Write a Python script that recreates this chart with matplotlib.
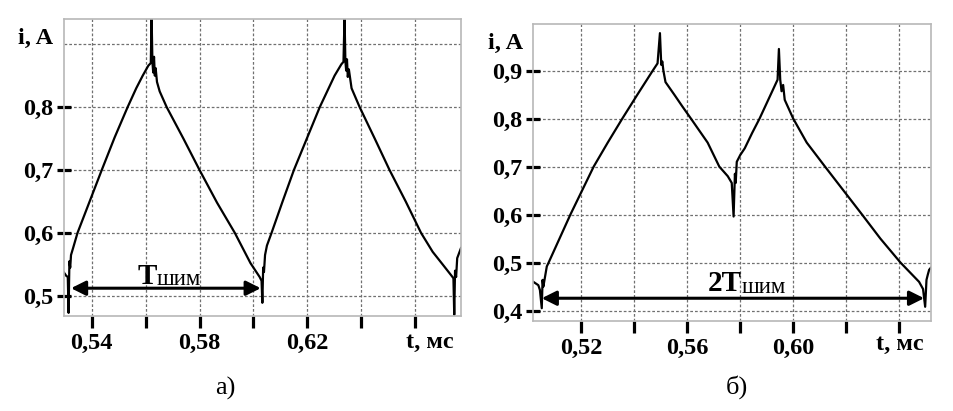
import matplotlib.pyplot as plt

plt.rcParams['font.family'] = ['Liberation Serif', 'DejaVu Serif']

# panel a) - current over one PWM period
t_a = [0.5297, 0.5305, 0.5311, 0.5314, 0.5317, 0.5320, 0.5323, 0.5330, 0.5347,
       0.5392, 0.5437, 0.5485, 0.5533, 0.5565, 0.5589, 0.5610, 0.5619, 0.5622,
       0.5625, 0.5628, 0.5631, 0.5634, 0.5637, 0.5642, 0.5652, 0.5678, 0.5740,
       0.5800, 0.5865, 0.5931, 0.5989, 0.6023, 0.6030, 0.6033, 0.6036, 0.6039,
       0.6043, 0.6050, 0.6067, 0.6108, 0.6150, 0.6198, 0.6246, 0.6301, 0.6326,
       0.6334, 0.6338, 0.6341, 0.6344, 0.6347, 0.6350, 0.6354, 0.6364, 0.6394,
       0.6450, 0.6505, 0.6565, 0.6622, 0.6665, 0.6702, 0.6735, 0.6742, 0.6745,
       0.6748, 0.6752, 0.6756, 0.6770]
i_a = [0.537, 0.532, 0.530, 0.473, 0.555, 0.545, 0.565, 0.575, 0.600,
       0.650, 0.700, 0.752, 0.800, 0.830, 0.850, 0.866, 0.870, 0.945,
       0.872, 0.855, 0.880, 0.850, 0.862, 0.840, 0.825, 0.800, 0.750,
       0.700, 0.648, 0.600, 0.552, 0.530, 0.524, 0.489, 0.545, 0.538,
       0.565, 0.580, 0.600, 0.650, 0.700, 0.750, 0.800, 0.850, 0.868,
       0.872, 0.945, 0.874, 0.858, 0.876, 0.848, 0.860, 0.830, 0.800,
       0.750, 0.700, 0.650, 0.600, 0.570, 0.550, 0.532, 0.528, 0.470,
       0.540, 0.530, 0.560, 0.576]

# panel б) - current over two PWM periods
t_b = [0.5019, 0.5038, 0.5044, 0.5051, 0.5054, 0.5057, 0.5070, 0.5076, 0.5159,
       0.5247, 0.5300, 0.5355, 0.5412, 0.5470, 0.5488, 0.5497, 0.5502, 0.5506,
       0.5510, 0.5518, 0.5551, 0.5582, 0.5614, 0.5677, 0.5721, 0.5753, 0.5768,
       0.5775, 0.5780, 0.5783, 0.5787, 0.5800, 0.5817, 0.5845, 0.5873, 0.5915,
       0.5941, 0.5946, 0.5951, 0.5956, 0.5962, 0.5968, 0.6000, 0.6051, 0.6120,
       0.6190, 0.6260, 0.6329, 0.6405, 0.6475, 0.6490, 0.6498, 0.6503, 0.6508,
       0.6513, 0.6519]
i_b = [0.460, 0.453, 0.443, 0.405, 0.464, 0.450, 0.492, 0.499, 0.600,
       0.700, 0.750, 0.800, 0.850, 0.900, 0.915, 0.978, 0.912, 0.919,
       0.900, 0.876, 0.850, 0.825, 0.800, 0.750, 0.700, 0.680, 0.666,
       0.596, 0.685, 0.666, 0.710, 0.724, 0.738, 0.770, 0.800, 0.850,
       0.881, 0.945, 0.881, 0.857, 0.870, 0.839, 0.800, 0.750, 0.700,
       0.650, 0.600, 0.550, 0.500, 0.460, 0.445, 0.408, 0.464, 0.475,
       0.485, 0.489]

xticks_a = [0.54, 0.56, 0.58, 0.60, 0.62, 0.64, 0.66]
xlabels_a = ['0,54', '', '0,58', '', '0,62', '', '']
yticks_a = [0.5, 0.6, 0.7, 0.8, 0.9]
ylabels_a = ['0,5', '0,6', '0,7', '0,8', '']

xticks_b = [0.52, 0.54, 0.56, 0.58, 0.60, 0.62, 0.64]
xlabels_b = ['0,52', '', '0,56', '', '0,60', '', '']
yticks_b = [0.4, 0.5, 0.6, 0.7, 0.8, 0.9]
ylabels_b = ['0,4', '0,5', '0,6', '0,7', '0,8', '0,9']

fig = plt.figure(figsize=(9.54, 4.11), dpi=100)
ax_a = fig.add_axes([0.0671, 0.2311, 0.4161, 0.7226])
ax_b = fig.add_axes([0.5590, 0.2197, 0.4166, 0.7219])


def style(ax, xt, xl, yt, yl, xlim, ylim):
    ax.set_xlim(*xlim)
    ax.set_ylim(*ylim)
    ax.set_xticks(xt)
    ax.set_xticklabels(xl, fontsize=17.5, fontweight='bold')
    ax.set_yticks(yt)
    ax.set_yticklabels(yl, fontsize=17.5, fontweight='bold')
    ax.grid(True, color='#707070', linestyle=(0, (2.2, 1.6)), linewidth=0.9)
    for s in ax.spines.values():
        s.set_color('#b8b8b8')
        s.set_linewidth(1.2)
    ax.tick_params(axis='y', direction='inout', length=10, width=2.3, pad=3)
    ax.tick_params(axis='x', direction='out', length=8.5, width=2.3, pad=4)


style(ax_a, xticks_a, xlabels_a, yticks_a, ylabels_a, (0.5297, 0.677), (0.468, 0.94))
style(ax_b, xticks_b, xlabels_b, yticks_b, ylabels_b, (0.5019, 0.6519), (0.379, 0.997))
# no tick mark at 0,9 on panel a, only the grid line
ax_a.yaxis.get_major_ticks()[-1].tick1line.set_visible(False)

ax_a.plot(t_a, i_a, color='black', linewidth=1.6)
ax_b.plot(t_b, i_b, color='black', linewidth=1.6)

# period arrows
arrow = dict(arrowstyle='<|-|>', color='black', lw=2.2, mutation_scale=22,
             shrinkA=0, shrinkB=0)
ax_a.annotate('', xy=(0.5323, 0.5122), xytext=(0.6027, 0.5122), arrowprops=arrow)
ax_b.annotate('', xy=(0.5051, 0.4258), xytext=(0.6494, 0.4258), arrowprops=arrow)

ax_a.text(0.5642, 0.5195, 'T', fontsize=21, fontweight='bold', ha='right', va='baseline')
ax_a.text(0.5642, 0.5175, 'шим', fontsize=16.5, ha='left', va='baseline')
ax_b.text(0.5804, 0.440, '2T', fontsize=21, fontweight='bold', ha='right', va='baseline')
ax_b.text(0.5804, 0.4375, 'шим', fontsize=16.5, ha='left', va='baseline')

# axis captions
ax_a.text(-0.028, 0.909, 'i, A', transform=ax_a.get_yaxis_transform(),
          fontsize=17.5, fontweight='bold', ha='right', va='center')
ax_b.text(-0.025, 0.957, 'i, A', transform=ax_b.get_yaxis_transform(),
          fontsize=17.5, fontweight='bold', ha='right', va='center')
ax_a.text(0.6655, -0.055, 't, мс', transform=ax_a.get_xaxis_transform(),
          fontsize=17.5, fontweight='bold', ha='center', va='top')
ax_b.text(0.6401, -0.046, 't, мс', transform=ax_b.get_xaxis_transform(),
          fontsize=17.5, fontweight='bold', ha='center', va='top')

fig.text(0.236, 0.056, 'а)', fontsize=19, ha='center', va='center')
fig.text(0.7725, 0.058, 'б)', fontsize=19, ha='center', va='center')

fig.savefig('out.png', dpi=100, facecolor='white')
